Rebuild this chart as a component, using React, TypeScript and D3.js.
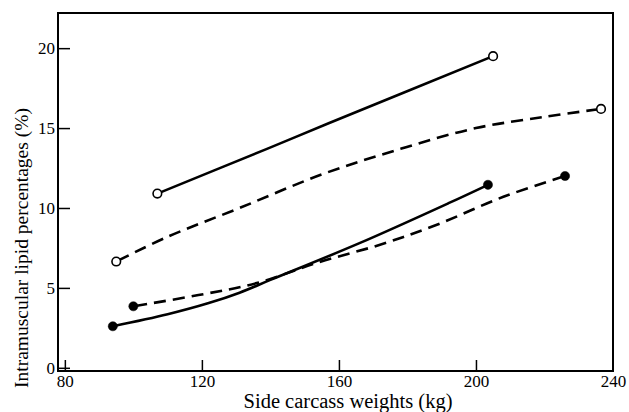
import * as d3 from "d3";
import React, { useEffect, useRef } from "react";

// chart values
const xTicks = [80, 120, 160, 200, 240];
const yTicks = [0, 5, 10, 15, 20];

const openSolidX = [107, 139, 157, 205];
const openSolidY = [10.9, 13.7, 15.3, 19.5];

const openDashX = [95, 110, 131, 155, 178, 200, 220, 236.5];
const openDashY = [6.65, 8.2, 10.0, 12.1, 13.7, 15.0, 15.7, 16.2];

const filledSolidX = [94, 110, 122, 131, 140, 166, 192, 203.5];
const filledSolidY = [2.6, 3.35, 4.05, 4.7, 5.5, 7.8, 10.3, 11.45];

const filledDashX = [100, 119, 136, 154, 172, 188, 208, 226];
const filledDashY = [3.85, 4.55, 5.3, 6.6, 7.7, 8.9, 10.7, 12.0];

const series = [
  { xs: openSolidX, ys: openSolidY, open: true, dashed: false },
  { xs: openDashX, ys: openDashY, open: true, dashed: true },
  { xs: filledSolidX, ys: filledSolidY, open: false, dashed: false },
  { xs: filledDashX, ys: filledDashY, open: false, dashed: true },
];

export default function App() {
  const svgRef = useRef(null);

  useEffect(() => {
    const width = 629;
    const height = 412;
    const margin = { top: 13, right: 16, bottom: 41, left: 58 };
    const font = "'Liberation Serif', 'Times New Roman', serif";

    const svg = d3.select(svgRef.current);
    svg.selectAll("*").remove();

    const x = d3.scaleLinear().domain([78, 240]).range([margin.left, width - margin.right]);
    const y = d3.scaleLinear().domain([-0.2, 22.2]).range([height - margin.bottom, margin.top]);

    const plotBottom = height - margin.bottom;

    // frame
    svg.append("rect")
      .attr("x", margin.left)
      .attr("y", margin.top)
      .attr("width", width - margin.left - margin.right)
      .attr("height", plotBottom - margin.top)
      .attr("fill", "none")
      .attr("stroke", "#000")
      .attr("stroke-width", 2);

    // x ticks (inward) and labels
    svg.append("g")
      .attr("transform", `translate(0,${plotBottom})`)
      .call(d3.axisBottom(x).tickValues(xTicks).tickSizeInner(-11).tickSizeOuter(0).tickPadding(4))
      .call(g => g.select(".domain").remove())
      .call(g => g.selectAll(".tick line").attr("stroke", "#000").attr("stroke-width", 1.5))
      .call(g => g.selectAll(".tick").filter(d => d === 240).select("line").remove())
      .call(g => g.selectAll(".tick text")
        .attr("font-family", font)
        .attr("font-size", 17)
        .attr("fill", "#000")
        .attr("dy", "0.72em"));

    // y ticks (inward) and labels
    svg.append("g")
      .attr("transform", `translate(${margin.left},0)`)
      .call(d3.axisLeft(y).tickValues(yTicks).tickSizeInner(-12).tickSizeOuter(0).tickPadding(4))
      .call(g => g.select(".domain").remove())
      .call(g => g.selectAll(".tick line").attr("stroke", "#000").attr("stroke-width", 1.5))
      .call(g => g.selectAll(".tick text")
        .attr("x", -3)
        .attr("font-family", font)
        .attr("font-size", 17)
        .attr("fill", "#000"));

    // axis titles
    svg.append("text")
      .attr("x", 348)
      .attr("y", 408)
      .attr("text-anchor", "middle")
      .attr("font-family", font)
      .attr("font-size", 20.5)
      .attr("fill", "#000")
      .text("Side carcass weights (kg)");

    svg.append("text")
      .attr("transform", `translate(28,${248}) rotate(-90)`)
      .attr("text-anchor", "middle")
      .attr("font-family", font)
      .attr("font-size", 19.5)
      .attr("fill", "#000")
      .text("Intramuscular lipid percentages (%)");

    const line = d3.line()
      .x(d => x(d[0]))
      .y(d => y(d[1]))
      .curve(d3.curveCatmullRom.alpha(0.5));

    series.forEach(s => {
      const pts = s.xs.map((v, i) => [v, s.ys[i]]);
      svg.append("path")
        .datum(pts)
        .attr("fill", "none")
        .attr("stroke", "#000")
        .attr("stroke-width", 2.6)
        .attr("stroke-dasharray", s.dashed ? "12,7" : null)
        .attr("stroke-dashoffset", s.dashed ? -2 : null)
        .attr("d", line);

      const ends = [pts[0], pts[pts.length - 1]];
      svg.selectAll(null)
        .data(ends)
        .enter().append("circle")
        .attr("cx", d => x(d[0]))
        .attr("cy", d => y(d[1]))
        .attr("r", s.open ? 4.3 : 4.6)
        .attr("fill", s.open ? "#fff" : "#000")
        .attr("stroke", "#000")
        .attr("stroke-width", s.open ? 1.6 : 0.5);
    });
  }, []);

  return (
    <svg
      ref={svgRef}
      width={629}
      height={412}
      style={{ position: "absolute", left: 0, top: 0, background: "#fff" }}
    />
  );
}
